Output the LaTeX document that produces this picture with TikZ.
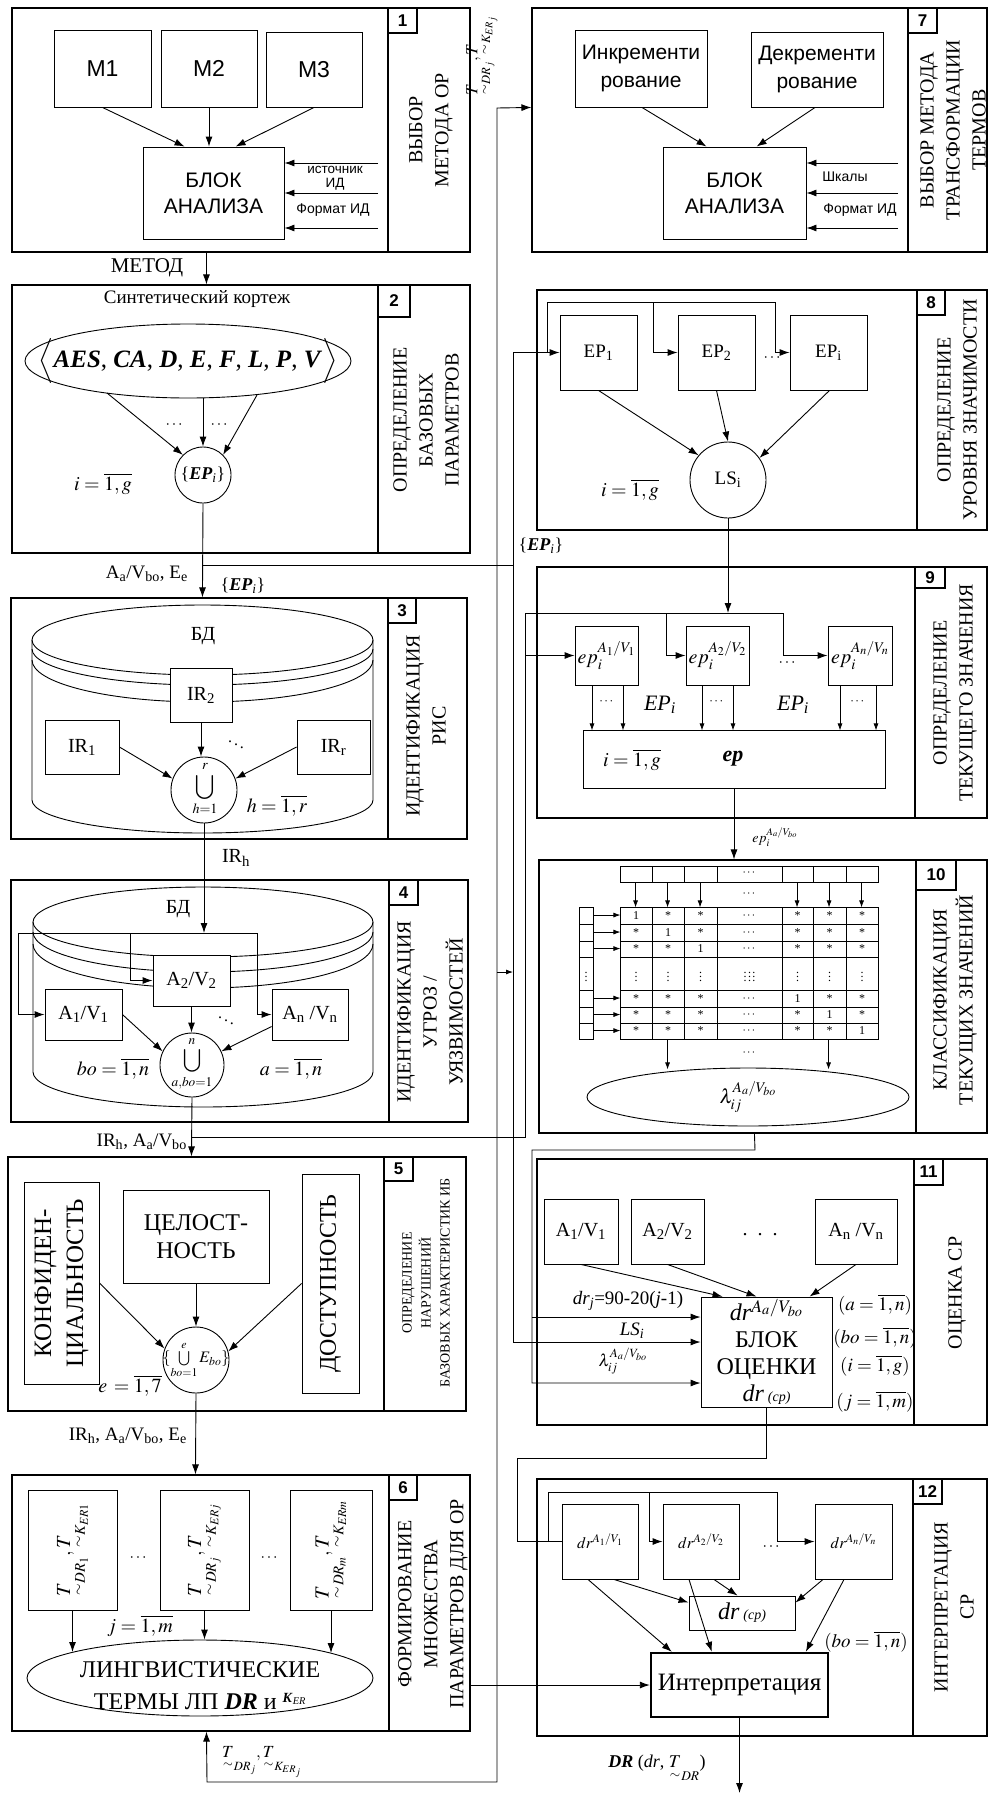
\documentclass[tikz,border=0pt]{standalone}
\usepackage{amsmath}
\usepackage{mathptmx}
\usepackage{fontspec}
\setmainfont{Liberation Serif}
\setsansfont{Liberation Sans}
\usetikzlibrary{arrows.meta,calc,shapes.geometric}
\newcommand\FS[2]{\fontsize{#1}{#2}\selectfont}
\newcommand\bi[1]{\textbf{\textit{#1}}}
\newcommand\tT{\underset{\sim}{T}}
\newcommand\BX[7][]{\node[box,minimum width={#5-#3},minimum height={#6-#4},#1] (#2) at ({(#3+#5)/2},{(#4+#6)/2}) {#7};}
\newcommand\PANEL[9]{%
 \node[draw,line width=1.1pt,inner sep=0pt,minimum width={#4-#2},minimum height={#5-#3}] (#1) at ({(#2+#4)/2},{(#3+#5)/2}) {};%
 \draw[line width=1.1pt] (#6,#3) -- (#6,#5);%
 \node[numbox,minimum width={#7-#6},minimum height={#8-#3}] (#1n) at ({(#6+#7)/2},{(#3+#8)/2}) {#9};}
\tikzset{
  ln/.style={line width=0.9pt},
  box/.style={draw,line width=0.9pt,inner sep=0pt,align=center,font=\FS{20}{24}},
  arr/.style={line width=0.9pt,-{Latex[length=10pt,width=7pt]}},
  sarr/.style={line width=0.8pt,-{Latex[length=7pt,width=5pt]}},
  numbox/.style={draw,line width=1.1pt,inner sep=0pt,font=\sffamily\bfseries\FS{17}{17}},
  side/.style={rotate=90,align=center,inner sep=0pt,font=\FS{20}{26}},
  txt/.style={inner sep=0pt,align=center,font=\FS{20}{24}},
  sfb/.style={font=\sffamily\FS{21}{26}},
  sml/.style={inner sep=0pt,font=\sffamily\FS{13.5}{15}},
  cell/.style={inner sep=0pt,font=\FS{12}{12}},
}
\begin{document}
\begin{tikzpicture}[x=1pt,y=-1pt]
\useasboundingbox (0,0) rectangle (990,1794);
% ---------- panels ----------
\PANEL{p1}{12}{8}{470}{252}{388}{417}{33}{1}
\PANEL{p2}{12}{285}{470}{553}{378}{410}{317}{2}
\PANEL{p3}{11}{598}{467}{839}{388}{416}{623}{3}
\PANEL{p4}{11}{880}{468}{1122}{389}{418}{905}{4}
\PANEL{p5}{8}{1157}{466}{1411}{384}{413}{1181}{5}
\PANEL{p6}{12}{1475}{470}{1731}{389}{417}{1500}{6}
\PANEL{p7}{532}{8}{987}{252}{908}{937}{33}{7}
\PANEL{p8}{537}{290}{987}{530}{917}{945}{315}{8}
\PANEL{p9}{537}{567}{987}{818}{915}{945}{588}{9}
\PANEL{p10}{539}{860}{987}{1133}{916}{956}{890}{10}
\PANEL{p11}{537}{1159}{987}{1425}{914}{943}{1185}{11}
\PANEL{p12}{537}{1479}{987}{1736}{913}{942}{1504}{12}
% ---------- side titles ----------
\node[side] (s1) at (431,130) {ВЫБОР\\МЕТОДА ОР};
\node[side] (s2) at (426,420) {ОПРЕДЕЛЕНИЕ\\БАЗОВЫХ\\ПАРАМЕТРОВ};
\node[side] (s3) at (426,726) {ИДЕНТИФИКАЦИЯ\\РИС};
\node[side] (s4) at (430,1012) {ИДЕНТИФИКАЦИЯ\\УГРОЗ /\\УЯЗВИМОСТЕЙ};
\node[side,font=\FS{14}{19}] (s5) at (426,1283) {ОПРЕДЕЛЕНИЕ\\НАРУШЕНИЙ\\БАЗОВЫХ ХАРАКТЕРИСТИК ИБ};
\node[side] (s6) at (433,1604) {ФОРМИРОВАНИЕ\\МНОЖЕСТВА\\ПАРАМЕТРОВ ДЛЯ ОР};
\node[side] (s7) at (953,130) {ВЫБОР МЕТОДА\\ТРАНСФОРМАЦИИ\\ТЕРМОВ};
\node[side] (s8) at (957,410) {ОПРЕДЕЛЕНИЕ\\УРОВНЯ ЗНАЧИМОСТИ};
\node[side] (s9) at (955,693) {ОПРЕДЕЛЕНИЕ\\ТЕКУЩЕГО ЗНАЧЕНИЯ};
\node[side] (s10) at (955,1000) {КЛАССИФИКАЦИЯ\\ТЕКУЩИХ ЗНАЧЕНИЙ};
\node[side] (s11) at (957,1293) {ОЦЕНКА СР};
\node[side] (s12) at (954,1607) {ИНТЕРПРЕТАЦИЯ\\СР};
% ---------- panel 1 ----------
\BX[sfb,font=\sffamily\FS{23}{26}]{m1}{54}{30}{151}{107}{M1}
\BX[sfb,font=\sffamily\FS{23}{26}]{m2}{161}{30}{257}{107}{M2}
\BX[sfb,font=\sffamily\FS{23}{26}]{m3}{266}{32}{362}{107}{M3}
\BX[sfb]{ba1}{143}{147}{284}{239}{БЛОК\\АНАЛИЗА}
\draw[arr] (m1.south) -- ($(ba1.north west)+(42,0)$);
\draw[arr] (m2.south) -- (m2.south |- ba1.north);
\draw[arr] (m3.south) -- ($(ba1.north west)+(93,0)$);
\foreach \y [count=\i] in {163,193,228} {\coordinate (ia\i) at (378,\y); \draw[arr] (ia\i) -- (ia\i -| ba1.east);}
\node[sml] (l1a) at (335,170) {источник};
\node[sml] (l1b) at (335,184) {ИД};
\node[sml,font=\sffamily\FS{14}{15}] (l1c) at (333,210) {Формат ИД};
\draw[arr] ($(p1.south west)+(195,0)$) -- ($(p2.north west)+(195,0)$);
\node[txt,font=\FS{21}{24}] (lmet) at (147,268) {МЕТОД};
% ---------- panel 2 ----------
\node[txt,font=\FS{19}{22}] (syn) at (197,299) {Синтетический кортеж};
\node[draw,ln,ellipse,minimum width=326,minimum height=74,inner sep=0pt] (e2) at (188,361) {};
\node[txt,font=\FS{25}{26}] (e2t) at (188,361) {$\Big\langle$\bi{AES}, \bi{CA}, \bi{D}, \bi{E}, \bi{F}, \bi{L}, \bi{P}, \bi{V}$\Big\rangle$};
\node[circle,draw,ln,minimum size=56,inner sep=0pt] (ep) at (203,475) {};
\node[txt,font=\FS{18}{20}] (ept) at (ep) {\{\bi{EP}\textsubscript{\textit{i}}\}};
\draw[arr] ($(e2.center)+(-81,32)$) -- (ep.135);
\draw[arr] ($(e2.south)+(15,0)$) -- (ep.north);
\draw[arr] ($(e2.center)+(69,34)$) -- (ep.45);
\node[txt,font=\FS{16}{16}] (d2a) at (175,425) {$\cdots$};
\node[txt,font=\FS{16}{16}] (d2b) at (220,425) {$\cdots$};
\node[txt] (i2) at (103,484) {$i=\overline{1,g}$};
\draw[arr] (ep.south) -- ($(p3.north west)+(192,0)$);
\coordinate (j565) at (203,565);
\coordinate (bA) at (513,565);
\draw[ln] (j565) -- (bA);
\node[txt,font=\FS{19}{22},anchor=east] (l2a) at (188,574) {A\textsubscript{a}/V\textsubscript{bo}, E\textsubscript{e}};
\node[txt,font=\FS{18}{20}] (l2b) at (243,586) {\{\bi{EP}\textsubscript{\textit{i}}\}};
\node[txt,font=\FS{18}{20}] (l2c) at (541,546) {\{\bi{EP}\textsubscript{\textit{i}}\}};
% ---------- panel 3 ----------
\draw[ln] (202.5,640) ellipse [x radius=170.5pt, y radius=35pt];
\draw[ln] (32,649) arc[start angle=180,end angle=360,x radius=170.5pt,y radius=36pt];
\draw[ln] (32,660) arc[start angle=180,end angle=360,x radius=170.5pt,y radius=42pt];
\draw[ln] (373,640) -- (373,800) arc[start angle=0,end angle=-180,x radius=170.5pt,y radius=33pt] -- (32,640);
\node[txt] (bd3) at (203,636) {БД};
\BX[fill=white]{ir2}{170}{668}{232}{722}{IR\textsubscript{2}}
\BX{ir1}{45}{720}{119}{774}{IR\textsubscript{1}}
\BX{irr}{297}{720}{370}{774}{IR\textsubscript{r}}
\node[circle,draw,ln,fill=white,minimum size=66,inner sep=0pt] (u3) at (204,790) {};
\node[txt,font=\FS{19}{20}] (u3t) at (205,789) {$\displaystyle\bigcup_{h=1}^{r}$};
\draw[arr] (ir2.south) -- (ir2.south |- u3.north);
\draw[arr] (ir1.east) -- (u3.160);
\draw[arr] (irr.west) -- (u3.20);
\node[txt,font=\FS{16}{16}] (dd3) at (236,742) {$\ddots$};
\node[txt] (h3) at (277,806) {$h=\overline{1,r}$};
\coordinate (bus4) at (204,933);
\draw[arr] (u3.south) -- (bus4);
\node[txt] (irh) at (236,858) {IR\textsubscript{h}};
% ---------- panel 4 ----------
\draw[ln] (203,922) ellipse [x radius=170pt, y radius=35pt];
\draw[ln] (33,932) arc[start angle=180,end angle=360,x radius=170pt,y radius=40pt];
\draw[ln] (33,944) arc[start angle=180,end angle=360,x radius=170pt,y radius=44pt];
\draw[ln] (373,922) -- (373,1072) arc[start angle=0,end angle=-180,x radius=170pt,y radius=35pt] -- (33,922);
\node[txt] (bd4) at (178,909) {БД};
\BX[fill=white]{a2}{153}{955}{230}{1006}{A\textsubscript{2}/V\textsubscript{2}}
\BX{a1}{45}{989}{122}{1040}{A\textsubscript{1}/V\textsubscript{1}}
\BX{an}{272}{989}{348}{1040}{A\textsubscript{n} /V\textsubscript{n}}
\coordinate (b4a) at (18,933);
\coordinate (b4b) at (130,933);
\coordinate (b4c) at (257,933);
\draw[ln] (b4a) -- (b4c);
\draw[arr] (b4a) |- (a1.west);
\draw[arr] (b4b) |- (a2.west);
\draw[arr] (b4c) |- (an.west);
\node[circle,draw,ln,fill=white,minimum size=64,inner sep=0pt] (u4) at (192,1065) {};
\node[txt,font=\FS{18}{20}] (u4t) at (192,1064) {$\displaystyle\bigcup_{a,bo=1}^{n}$};
\draw[arr] (a2.south) -- (a2.south |- u4.north);
\draw[arr] (a1.east) -- (u4.155);
\draw[arr] ($(an.west)+(0,12)$) -- (u4.25);
\node[txt,font=\FS{16}{16}] (dd4) at (226,1018) {$\ddots$};
\node[txt] (bo4) at (113,1069) {$bo=\overline{1,n}$};
\node[txt] (aa4) at (291,1069) {$a=\overline{1,n}$};
\coordinate (j4) at (192,1137);
\draw[arr] (u4.south) -- ($(p5.north west)+(184,0)$);
\node[txt,font=\FS{19}{22},anchor=east] (l4) at (187,1142) {IR\textsubscript{h}, A\textsubscript{a}/V\textsubscript{bo}};
\coordinate (c525a) at (525,1137);
\coordinate (bus9) at (525,613);
\coordinate (bus9e) at (783,613);
\draw[ln] (j4) -- (c525a) -- (bus9) -- (bus9e);
% ---------- panel 5 ----------
\BX{kb}{24}{1182}{99}{1384}{}
\node[txt,rotate=90,font=\FS{25}{32}] (kbt) at (kb) {КОНФИДЕН-\\ЦИАЛЬНОСТЬ};
\BX[font=\FS{24}{28}]{cb}{123}{1190}{269}{1283}{ЦЕЛОСТ-\\НОСТЬ}
\BX{db}{302}{1174}{359}{1393}{}
\node[txt,rotate=90,font=\FS{24}{28}] (dbt) at (db) {ДОСТУПНОСТЬ};
\node[circle,draw,ln,minimum size=66,inner sep=0pt] (u5) at (196,1360) {};
\node[txt,font=\FS{16}{18}] (u5t) at (196,1360) {$\{\bigcup\limits_{bo=1}^{e}E_{bo}\}$};
\draw[arr] (kb.east) -- (u5.160);
\draw[arr] (cb.south) -- (u5.north);
\draw[arr] (db.west) -- (u5.15);
\node[txt] (e5) at (130,1386) {$e\,=\overline{1,7}$};
\draw[arr] (u5.south) -- ($(p6.north west)+(184,0)$);
\node[txt,font=\FS{19}{22},anchor=east] (l5) at (187,1436) {IR\textsubscript{h}, A\textsubscript{a}/V\textsubscript{bo}, E\textsubscript{e}};
% ---------- panel 6 ----------
\BX{b1}{28}{1490}{117}{1610}{}
\BX{b2}{160}{1490}{249}{1610}{}
\BX{b3}{290}{1490}{372}{1610}{}
\node[txt,rotate=90] (b1t) at (b1) {$\tT_{DR_1},\tT_{K_{ER1}}$};
\node[txt,rotate=90] (b2t) at (b2) {$\tT_{DR_j},\tT_{K_{ERj}}$};
\node[txt,rotate=90] (b3t) at (b3) {$\tT_{DR_m},\tT_{K_{ERm}}$};
\node[txt,font=\FS{16}{16}] (d6a) at (139,1558) {$\cdots$};
\node[txt,font=\FS{16}{16}] (d6b) at (270,1558) {$\cdots$};
\node[draw,ln,ellipse,minimum width=346,minimum height=76,inner sep=0pt] (e6) at (200,1678) {};
\node[txt,font=\FS{24}{32}] (e6t) at (200,1686) {ЛИНГВИСТИЧЕСКИЕ\\ТЕРМЫ ЛП \bi{DR} и \raisebox{7pt}{\FS{14}{14}\bi{K}\textsubscript{\textit{ER}}}};
\draw[arr] (b1.south) -- ($(e6.center)+(-127.5,-26)$);
\draw[arr] (b2.south) -- (b2.south |- e6.north);
\draw[arr] (b3.south) -- ($(e6.center)+(131,-25)$);
\node[txt] (j6) at (140,1626) {$j=\overline{1,m}$};
% ---------- feedback line ----------
\coordinate (fb1) at (207,1782);
\coordinate (fb2) at (497,1782);
\coordinate (fb3) at (497,108);
\draw[line width=0.9pt,{Latex[length=10pt,width=7pt]}-{Latex[length=10pt,width=7pt]}] ($(p6.south west)+(195,0)$) -- (fb1) -- (fb2) -- (fb3) -- ($(p7.north west)+(0,100)$);
\node[txt,rotate=90,font=\FS{17}{20}] (fbt1) at (482,56) {$\tT_{DR_j},\tT_{K_{ER_j}}$};
\node[txt,font=\FS{17}{20}] (fbt2) at (262,1762) {$\tT_{DR_j},\tT_{K_{ER_j}}$};
\coordinate (t1) at (497,972);
\draw[sarr] (t1) -- (t1 -| bA);
% ---------- panel 7 ----------
\BX[sfb,font=\sffamily\FS{21}{28}]{inc}{575}{30}{707}{107}{Инкременти\\рование}
\BX[sfb,font=\sffamily\FS{21}{28}]{dec}{751}{32}{883}{107}{Декременти\\рование}
\BX[sfb]{ba7}{663}{147}{806}{239}{БЛОК\\АНАЛИЗА}
\draw[arr] ($(inc.south)+(1,0)$) -- ($(ba7.north west)+(44,0)$);
\draw[arr] ($(dec.south)+(-2,0)$) -- ($(ba7.north west)+(94,0)$);
\foreach \y [count=\i] in {163,193,228} {\coordinate (ib\i) at (898,\y); \draw[arr] (ib\i) -- (ib\i -| ba7.east);}
\node[sml,font=\sffamily\FS{14}{15}] (l7a) at (845,177) {Шкалы};
\node[sml,font=\sffamily\FS{14}{15}] (l7b) at (860,210) {Формат ИД};
% ---------- panel 8 ----------
\BX[font=\FS{19}{22}]{ep1}{560}{315}{637}{390}{EP\textsubscript{1}}
\BX[font=\FS{19}{22}]{ep2}{678}{315}{755}{390}{EP\textsubscript{2}}
\BX[font=\FS{19}{22}]{epi}{790}{315}{867}{390}{EP\textsubscript{i}}
\draw[arr] (bA) |- (ep1.west);
\coordinate (b8a) at (547,352.5);
\coordinate (b8b) at (653,302);
\coordinate (b8c) at (775,302);
\draw[ln] (b8a) |- (b8c);
\draw[arr] (b8b) |- (ep2.west);
\draw[arr] (b8c) |- (epi.west);
\node[txt,font=\FS{16}{16}] (d8) at (773,358) {$\cdots$};
\node[circle,draw,ln,minimum size=76,inner sep=0pt,font=\FS{19}{22}] (ls) at (728,480) {LS\textsubscript{i}};
\draw[arr] (ep1.south) -- (ls.140);
\draw[arr] (ep2.south) -- (ls.north);
\draw[arr] ($(epi.south)+(1,0)$) -- (ls.35);
\node[txt] (i8) at (630,490) {$i=\overline{1,g}$};
% ---------- panel 9 ----------
\draw[arr] (ls.south) -- (ls.south |- bus9);
\BX{e1}{575}{626}{638}{685}{$ep_i^{A_1/V_1}$}
\BX{e2b}{686}{626}{749}{685}{$ep_i^{A_2/V_2}$}
\BX{en}{828}{626}{892}{685}{$ep_i^{A_n/V_n}$}
\draw[arr] (e1.west -| bus9) -- (e1.west);
\coordinate (b9b) at (666,613);
\draw[arr] (b9b) |- (e2b.west);
\draw[arr] (bus9e) |- (en.west);
\node[txt,font=\FS{16}{16}] (d9) at (788,663) {$\cdots$};
\BX{epb}{583}{730}{885}{788}{}
\node[txt] (i9) at (632,760) {$i=\overline{1,g}$};
\node[txt,font=\FS{22}{24}] (ep9) at (733,759) {\bi{ep}};
\foreach \n/\dx in {e1/-14.5,e1/16.5,e2b/-15.5,e2b/15.5,en/-20,en/16}{\draw[sarr] ($(\n.south)+(\dx,0)$) -- ++(0,45);}
\foreach \x in {607,717,858}{\node[txt,font=\FS{13}{13}] at (\x,702) {$\cdots$};}
\node[txt,font=\FS{22}{24}] (ep9a) at (660,705) {\textit{EP}\textsubscript{\textit{i}}};
\node[txt,font=\FS{22}{24}] (ep9b) at (793,705) {\textit{EP}\textsubscript{\textit{i}}};
\draw[arr] (epb.south) -- (epb.south |- p10.north);
\node[txt,font=\FS{14}{16}] (l9) at (775,837) {$ep_i^{A_a/V_{bo}}$};
% ---------- panel 10 ----------
\node[draw,ln,minimum width=258,minimum height=16,inner sep=0pt] (trow) at (749,874) {};
\foreach \x in {652,684,717,782,813,846}{\draw[ln] (\x,866) -- (\x,882);}
\node[cell] at (749.5,873) {$\cdots$};
\foreach \dx in {16,48,80.5,177.5,209.5,242}{\draw[sarr] ($(trow.south west)+(\dx,0)$) -- ++(0,25);}
\node[cell] at (749.5,894) {$\cdots$};
\node[draw,ln,minimum width=258,minimum height=132,inner sep=0pt] (mat) at (749,973) {};
\node[draw,ln,minimum width=14,minimum height=132,inner sep=0pt] (lcol) at (586,973) {};
\foreach \x in {652,684,717,782,813,846}{\draw[ln] (\x,907) -- (\x,1039);}
\foreach \y in {924,941,957,990,1007,1023}{\draw[ln] (620,\y) -- (878,\y); \draw[ln] (579,\y) -- (593,\y);}
\foreach \y/\a/\b/\c/\d/\e/\f in {915.5/1/*/*/*/*/*,932.5/*/1/*/*/*/*,949/*/*/1/*/*/*,998.5/*/*/*/1/*/*,1015/*/*/*/*/1/*,1031/*/*/*/*/*/1}{
  \node[cell] at (636,\y) {\a};
  \node[cell] at (668,\y) {\b};
  \node[cell] at (700.5,\y) {\c};
  \node[cell] at (749.5,\y) {$\cdots$};
  \node[cell] at (797.5,\y) {\d};
  \node[cell] at (829.5,\y) {\e};
  \node[cell] at (862,\y) {\f};
  \draw[sarr] ($(lcol.north east)+(0,{\y-907})$) -- ++(27,0);
}
\foreach \x in {636,668,700.5,797.5,829.5,862,586}{\node[cell] at (\x,973.5) {$\vdots$};}
\node[cell] at (749.5,973.5) {$\vdots\,\vdots\,\vdots$};
\draw[sarr] ($(mat.south west)+(48,0)$) -- ++(0,30);
\draw[sarr] ($(mat.south west)+(209,0)$) -- ++(0,30);
\node[cell] at (749.5,1053) {$\cdots$};
\node[draw,ln,ellipse,minimum width=322,minimum height=58,inner sep=0pt,font=\FS{20}{22}] (lam) at (748,1097) {$\lambda_{ij}^{A_a/V_{bo}}$};
% ---------- panel 11 ----------
\BX{a1b}{544}{1199}{618}{1264}{A\textsubscript{1}/V\textsubscript{1}}
\BX{a2b}{631}{1199}{704}{1264}{A\textsubscript{2}/V\textsubscript{2}}
\BX{anb}{815}{1199}{897}{1264}{A\textsubscript{n} /V\textsubscript{n}}
\node[txt] (d11) at (760,1235) {.~~.~~.};
\BX[font=\FS{24}{27}]{bo}{701}{1297}{832}{1407}{\textit{dr}$^{A_a/V_{bo}}$\\БЛОК\\ОЦЕНКИ\\\textit{dr}\,{\FS{14}{14}\textit{(ср)}}}
\draw[arr] (a1b.south) -- ($(bo.north west)+(22,0)$);
\draw[arr] (a2b.south) -- ($(bo.north west)+(56,0)$);
\draw[arr] (anb.south) -- ($(bo.north west)+(109,0)$);
\node[txt,font=\FS{19}{22}] (r11a) at (875,1305) {$(a=\overline{1,n})$};
\node[txt,font=\FS{19}{22}] (r11b) at (875,1338) {$(bo=\overline{1,n})$};
\node[txt,font=\FS{19}{22}] (r11c) at (875,1366) {$(i=\overline{1,g})$};
\node[txt,font=\FS{19}{22}] (r11d) at (875,1402) {$(j=\overline{1,m})$};
\coordinate (l1) at (755,1150);
\coordinate (l2) at (532,1150);
\coordinate (l3) at (532,1383);
\coordinate (l4) at (532,1317);
\coordinate (ls2) at (513,1342);
\draw[arr] ($(p10.south west)+(216,0)$) -- (l1) -- (l2) -- (l3) -- (l3 -| bo.west);
\draw[arr] (l4) -- (l4 -| bo.west);
\draw[arr] (bA) -- (ls2) -- (ls2 -| bo.west);
\node[txt,font=\FS{19}{22}] (t11a) at (628,1301) {\textit{dr}\textsubscript{\textit{j}}=90-20(\textit{j}-1)};
\node[txt,font=\FS{19}{22}] (t11b) at (632,1331) {\textit{LS}\textsubscript{\textit{i}}};
\node[txt,font=\FS{17}{20}] (t11c) at (623,1361) {$\lambda_{ij}^{A_a/V_{bo}}$};
% ---------- panel 12 ----------
\BX[font=\FS{16}{18}]{dr1}{562}{1504}{638}{1579}{$dr^{A_1/V_1}$}
\BX[font=\FS{16}{18}]{dr2}{663}{1504}{739}{1579}{$dr^{A_2/V_2}$}
\BX[font=\FS{16}{18}]{drn}{815}{1504}{892}{1579}{$dr^{A_n/V_n}$}
\coordinate (k1) at (766.5,1458);
\coordinate (k2) at (517,1458);
\coordinate (k3) at (517,1541.5);
\draw[ln] (bo.south) -- (k1) -- (k2) -- (k3) -- (k3 -| dr1.west);
\coordinate (b12a) at (548,1541.5);
\coordinate (b12b) at (649,1492);
\coordinate (b12c) at (777,1492);
\draw[ln] (b12a) |- (b12c);
\draw[arr] (b12b) |- (dr2.west);
\draw[arr] (b12c) |- (drn.west);
\node[txt,font=\FS{16}{16}] (d12) at (772,1547) {$\cdots$};
\BX[font=\FS{24}{26}]{dcp}{689}{1596}{795}{1630}{\textit{dr}\,{\FS{14}{14}\textit{(ср)}}}
\BX[line width=2.4pt,font=\FS{25}{28}]{ip}{651}{1653}{828}{1717}{Интерпретация}
\draw[arr] ($(dr1.south)+(14,0)$) -- ($(dcp.north west)+(0,7)$);
\draw[arr] ($(dr1.south)+(-12,0)$) -- ($(ip.north west)+(22,0)$);
\draw[arr] ($(dr2.south)+(-12,0)$) -- ($(ip.north west)+(62,0)$);
\draw[arr] ($(dr2.south)+(13,0)$) -- ($(dcp.north west)+(49,0)$);
\draw[arr] ($(drn.south)+(-30.5,0)$) -- ($(dcp.north east)+(0,7)$);
\draw[arr] ($(drn.south)+(-9.5,0)$) -- ($(ip.north west)+(156,0)$);
\node[txt,font=\FS{19}{22}] (r12) at (866,1642) {$(bo=\overline{1,n})$};
\draw[arr] (ip.west -| p6.east) -- (ip.west);
\coordinate (fin) at (739.5,1793);
\draw[arr] (ip.south) -- (fin);
\node[txt,font=\FS{18}{20}] (l12) at (657,1768) {\bi{DR} (\textit{dr}, $\tT_{DR}$)};
\end{tikzpicture}
\end{document}
